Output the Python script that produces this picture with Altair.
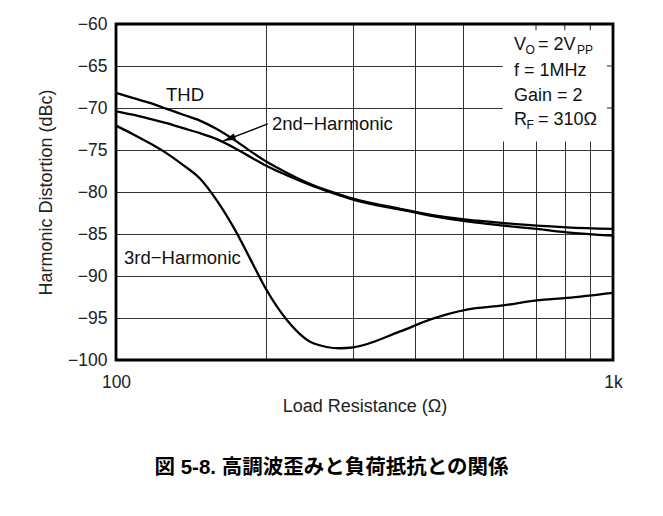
import altair as alt
import pandas as pd

# ---- data ----
resistance = [100, 108, 117, 126.5, 136.5, 147.5, 159.5, 175, 186, 201, 220.5,
              249.5, 282, 300, 373, 428, 508, 602, 702, 807, 1000]
thd = [-68.2, -68.8, -69.4, -70.1, -70.8, -71.5, -72.5, -74.0, -75.1, -76.4, -77.7,
       -79.2, -80.3, -80.8, -82.0, -82.7, -83.3, -83.7, -84.0, -84.2, -84.4]
h2 = [-70.4, -70.8, -71.3, -71.8, -72.4, -73.0, -73.7, -74.9, -75.8, -76.9, -78.0,
      -79.3, -80.4, -80.9, -82.1, -82.8, -83.5, -84.0, -84.4, -84.8, -85.2]
h3 = [-72.1, -73.1, -74.2, -75.4, -76.8, -78.4, -81.0, -84.9, -87.9, -91.7, -95.2,
      -98.0, -98.6, -98.5, -96.6, -95.2, -94.0, -93.5, -92.9, -92.6, -92.0]

x_ticks = [100, 200, 300, 400, 500, 600, 700, 800, 900, 1000]
y_ticks = [-60, -65, -70, -75, -80, -85, -90, -95, -100]

FONT = "Liberation Sans"
CAPTION = "図 5-8. 高調波歪みと負荷抵抗との関係"

series = pd.DataFrame({
    "R": resistance * 3,
    "dB": thd + h2 + h3,
    "s": ["THD"] * len(resistance) + ["2nd"] * len(resistance) + ["3rd"] * len(resistance),
})

xs = alt.Scale(type="log", domain=[100, 1000], nice=False)
ys = alt.Scale(domain=[-100, -60], nice=False, zero=False)

xax = alt.Axis(values=x_ticks, grid=True, ticks=False, domain=False,
               labelExpr="datum.value == 100 ? '100' : (datum.value == 1000 ? '1k' : '')",
               labelPadding=13, title="Load Resistance (Ω)", titlePadding=7,
               labelFlush=False)
yax = alt.Axis(values=y_ticks, grid=True, ticks=False, domain=False, format="d",
               labelPadding=9, title="Harmonic Distortion (dBc)", titlePadding=12)

base = alt.Chart(series)

lines = base.mark_line(color="black", strokeWidth=2.3, interpolate="monotone").encode(
    x=alt.X("R:Q", scale=xs, axis=xax),
    y=alt.Y("dB:Q", scale=ys, axis=yax),
    detail="s:N",
)

# white annotation box covering the grid in the upper-right corner
box_df = pd.DataFrame({"x": [600], "x2": [1000], "y": [-60], "y2": [-74]})
box = alt.Chart(box_df).mark_rect(fill="white", stroke=None).encode(
    x=alt.X("x:Q", scale=xs), x2="x2", y=alt.Y("y:Q", scale=ys), y2="y2")

# inner tick stubs visible inside the box
vstub_df = pd.DataFrame({"x": [700, 800, 900], "y": [-60] * 3, "y2": [-60.75] * 3})
vstubs = alt.Chart(vstub_df).mark_rule(color="#222", strokeWidth=1).encode(
    x=alt.X("x:Q", scale=xs), y=alt.Y("y:Q", scale=ys), y2="y2")
hstub_df = pd.DataFrame({"y": [-65, -70], "x": [972.5] * 2, "x2": [1000] * 2})
hstubs = alt.Chart(hstub_df).mark_rule(color="#222", strokeWidth=1).encode(
    y=alt.Y("y:Q", scale=ys), x=alt.X("x:Q", scale=xs), x2="x2")

frame_df = pd.DataFrame({"x": [100], "x2": [1000], "y": [-60], "y2": [-100]})
frame = alt.Chart(frame_df).mark_rect(filled=False, stroke="black", strokeWidth=2.8).encode(
    x=alt.X("x:Q", scale=xs), x2="x2", y=alt.Y("y:Q", scale=ys), y2="y2")


def label(text, r, db, size=16, align="left", dx=0, dy=0):
    df = pd.DataFrame({"R": [r], "dB": [db], "t": [text]})
    return alt.Chart(df).mark_text(font=FONT, fontSize=size, align=align,
                                   baseline="middle", dx=dx, dy=dy, color="#111").encode(
        x=alt.X("R:Q", scale=xs), y=alt.Y("dB:Q", scale=ys), text="t:N")


curve_labels = [
    label("THD", 137.7, -68.5, size=18.5, align="center"),
    label("2nd−Harmonic", 206, -71.9, size=18.5),
    label("3rd−Harmonic", 103.8, -87.9, size=18.5),
]

# arrow from 2nd-Harmonic label to the curve
arrow_df = pd.DataFrame({"R": [202], "dB": [-71.9], "R2": [164], "dB2": [-73.95]})
arrow_line = alt.Chart(arrow_df).mark_rule(color="black", strokeWidth=1.3).encode(
    x=alt.X("R:Q", scale=xs), y=alt.Y("dB:Q", scale=ys), x2="R2", y2="dB2")
head_df = pd.DataFrame({"R": [164], "dB": [-73.95]})
arrow_head = alt.Chart(head_df).mark_point(
    shape="M0,0 L-0.5,2 L0.5,2 Z", filled=True, fill="black", stroke=None,
    size=170, angle=249, opacity=1).encode(
    x=alt.X("R:Q", scale=xs), y=alt.Y("dB:Q", scale=ys))

ax = 632  # anchor of annotation text (Ω)
box_text = [
    label("V", ax, -62.5, size=18),
    label("O", ax, -62.5, size=12, dx=11.5, dy=5),
    label("= 2V", ax, -62.5, size=18, dx=24),
    label("PP", ax, -62.5, size=12, dx=63, dy=5),
    label("f = 1MHz", ax, -65.6, size=18),
    label("Gain = 2", ax, -68.6, size=18),
    label("R", ax, -71.4, size=18),
    label("F", ax, -71.4, size=12, dx=12.5, dy=5),
    label("= 310Ω", ax, -71.4, size=18, dx=24),
]

chart = alt.layer(
    lines, box, vstubs, hstubs, frame, arrow_line, arrow_head,
    *curve_labels, *box_text,
).properties(
    width=497, height=336,
    padding={"left": 108, "top": 16, "right": 30, "bottom": 130},
    autosize=alt.AutoSizeParams(type="none"),
    title=alt.TitleParams(CAPTION, orient="bottom", anchor="middle", dx=-33, offset=42,
                          font=f"{FONT}, Noto Sans CJK JP", fontSize=20.5,
                          fontWeight="bold", color="black", frame="group"),
).configure_view(stroke=None).configure_axis(
    labelFont=FONT, labelFontSize=17.5, labelColor="#222",
    titleFont=FONT, titleFontSize=18, titleColor="#222", titleFontWeight="normal",
    gridColor="#333", gridOpacity=1, gridWidth=1,
)

chart.save("out.html", embed_options={"renderer": "svg", "actions": False})
